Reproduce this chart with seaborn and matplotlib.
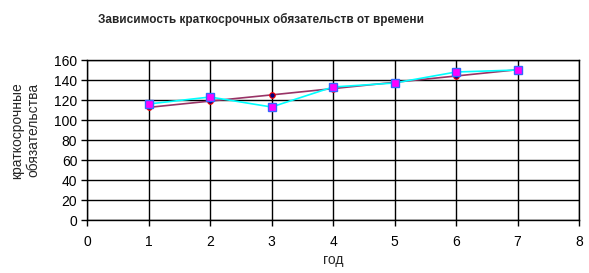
import matplotlib
matplotlib.use("Agg")
import matplotlib.pyplot as plt
import seaborn as sns
import pandas as pd

years = [1, 2, 3, 4, 5, 6, 7]
trend_values = [112.6, 118.9, 125.1, 131.4, 137.7, 144.0, 150.3]
actual_values = [116, 123, 113, 133, 137, 148, 150]
title_text = "Зависимость краткосрочных обязательств от времени"
x_label = "год"
y_label = "краткосрочные\nобязательства"
x_ticks = [0, 1, 2, 3, 4, 5, 6, 7, 8]
y_ticks = [0, 20, 40, 60, 80, 100, 120, 140, 160]

sns.set_style("white")
plt.rcParams['font.family'] = ['Liberation Sans', 'DejaVu Sans']

df_trend = pd.DataFrame({"x": years, "y": trend_values})
df_act = pd.DataFrame({"x": years, "y": actual_values})

fig = plt.figure(figsize=(5.89, 2.73), dpi=100)
ax = fig.add_axes([87/589, 1-220/273, (579-87)/589, (220-60)/273])

sns.lineplot(data=df_trend, x="x", y="y", ax=ax, color="#993366", lw=1.2,
             marker="o", markersize=4, markerfacecolor="#000080",
             markeredgecolor="#FF0000", markeredgewidth=0.8, zorder=3)
sns.lineplot(data=df_act, x="x", y="y", ax=ax, color="#00FFFF", lw=1.2,
             marker="s", markersize=5.5, markerfacecolor="#FF00FF",
             markeredgecolor="#3366FF", markeredgewidth=1.0, zorder=4)

ax.set_xlim(0, 8)
ax.set_ylim(0, 160)
ax.set_xticks(x_ticks)
ax.set_yticks(y_ticks)
ax.grid(True, color="black", lw=1.0)
for s in ax.spines.values():
    s.set_color("black")
    s.set_linewidth(1.0)
ax.tick_params(axis="both", direction="out", length=4, width=1, color="black",
               labelsize=10, labelcolor="black", pad=3, bottom=True, left=True)
ax.tick_params(axis="x", pad=7)
ax.set_xlabel(x_label, fontsize=10, labelpad=3)
ax.set_ylabel(y_label, fontsize=10, linespacing=1.25)
ax.yaxis.set_label_coords(-0.094, 0.56)
fig.text(261/589, 1-19/273, title_text, ha="center", va="center",
         fontsize=8.5, fontweight="bold")

fig.savefig("out.png", dpi=100)
